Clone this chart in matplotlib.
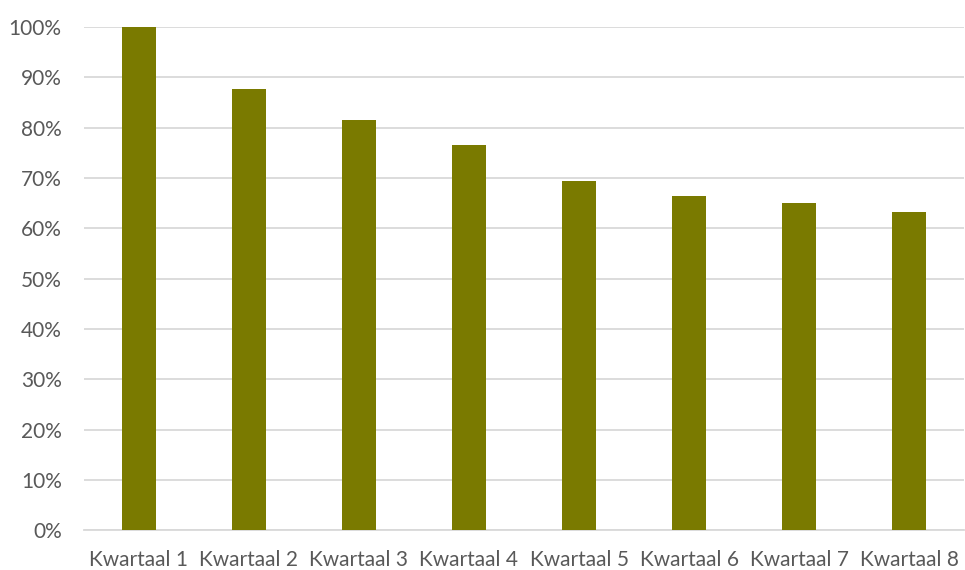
import matplotlib
matplotlib.use("Agg")
import matplotlib.pyplot as plt
from matplotlib.ticker import PercentFormatter

# ------------------------------------------------------------
# Data
# ------------------------------------------------------------
categories = ["Kwartaal 1", "Kwartaal 2", "Kwartaal 3", "Kwartaal 4",
              "Kwartaal 5", "Kwartaal 6", "Kwartaal 7", "Kwartaal 8"]
values = [1.000, 0.876, 0.816, 0.765, 0.695, 0.664, 0.651, 0.633]
y_ticks = [0.0, 0.1, 0.2, 0.3, 0.4, 0.5, 0.6, 0.7, 0.8, 0.9, 1.0]

bar_color = "#7A7A00"
grid_color = "#D9D9D9"
text_color = "#595959"

plt.rcParams["font.family"] = ["Lato", "DejaVu Sans"]

fig = plt.figure(figsize=(9.65, 5.7), dpi=100)
ax = fig.add_axes([0.087, 0.0696, 0.912, 0.883])

x = list(range(len(categories)))
ax.bar(x, values, width=0.31, color=bar_color, zorder=3)

ax.set_xlim(-0.5, len(categories) - 0.5)
ax.set_ylim(0, 1.0)
ax.set_yticks(y_ticks)
ax.yaxis.set_major_formatter(PercentFormatter(1.0, decimals=0))
ax.set_xticks(x)
ax.set_xticklabels(categories)

ax.grid(axis="y", color=grid_color, linewidth=1.3, zorder=0)
for side in ["top", "right", "left"]:
    ax.spines[side].set_visible(False)
ax.spines["bottom"].set_color(grid_color)
ax.spines["bottom"].set_linewidth(1.3)

ax.tick_params(axis="both", length=0, colors=text_color, labelsize=15)
ax.tick_params(axis="y", pad=16)
ax.tick_params(axis="x", pad=14)

fig.savefig("out.png", dpi=100)
